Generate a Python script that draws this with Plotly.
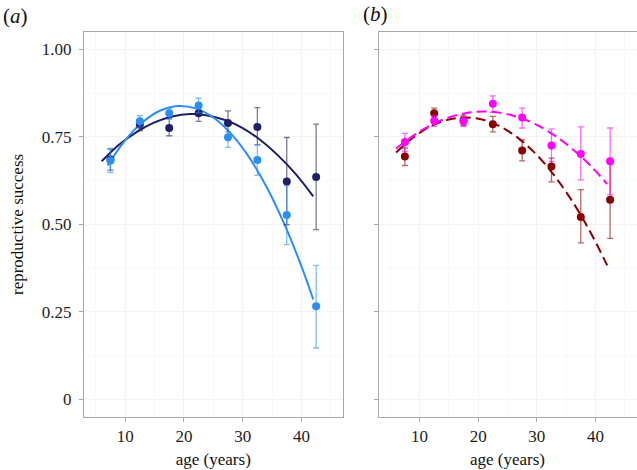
import plotly.graph_objects as go

ages = [7.5, 12.5, 17.5, 22.5, 27.5, 32.5, 37.5, 42.5]

# panel (a)
a_dark_y = [0.685, 0.784, 0.775, 0.817, 0.789, 0.778, 0.622, 0.635]
a_dark_hi = [0.715, 0.800, 0.803, 0.835, 0.824, 0.833, 0.748, 0.786]
a_dark_lo = [0.655, 0.768, 0.753, 0.794, 0.755, 0.727, 0.499, 0.485]
a_light_y = [0.682, 0.794, 0.817, 0.839, 0.749, 0.684, 0.527, 0.266]
a_light_hi = [0.717, 0.810, 0.830, 0.860, 0.765, 0.727, 0.610, 0.383]
a_light_lo = [0.648, 0.778, 0.800, 0.818, 0.720, 0.640, 0.442, 0.147]

a_dark_cx = [6, 9, 12, 15, 18, 21, 24, 27, 30, 33, 36, 39, 42]
a_dark_cy = [0.680, 0.728, 0.764, 0.791, 0.808, 0.815, 0.811, 0.798, 0.775, 0.741, 0.697, 0.644, 0.580]
a_light_cx = [7, 10, 13, 16, 19, 22, 25, 28, 31, 34, 37, 40, 42]
a_light_cy = [0.668, 0.740, 0.792, 0.825, 0.838, 0.831, 0.805, 0.759, 0.694, 0.609, 0.504, 0.380, 0.286]

# panel (b)
b_red_y = [0.694, 0.817, 0.797, 0.786, 0.711, 0.665, 0.521, 0.570]
b_red_hi = [0.718, 0.832, 0.812, 0.808, 0.741, 0.689, 0.599, 0.675]
b_red_lo = [0.668, 0.800, 0.782, 0.764, 0.681, 0.621, 0.447, 0.460]
b_mag_y = [0.735, 0.796, 0.794, 0.844, 0.805, 0.725, 0.701, 0.680]
b_mag_hi = [0.760, 0.810, 0.808, 0.867, 0.832, 0.772, 0.778, 0.775]
b_mag_lo = [0.708, 0.780, 0.780, 0.820, 0.775, 0.680, 0.627, 0.585]

b_cx = [6, 9, 12, 15, 18, 21, 24, 27, 30, 33, 36, 39, 42]
b_red_cy = [0.705, 0.749, 0.781, 0.799, 0.805, 0.798, 0.777, 0.744, 0.698, 0.639, 0.567, 0.482, 0.383]
b_mag_cy = [0.716, 0.754, 0.784, 0.805, 0.818, 0.822, 0.818, 0.805, 0.784, 0.754, 0.716, 0.670, 0.615]

y_ticks = [0, 0.25, 0.5, 0.75, 1.0]
y_tick_labels = ["0", "0.25", "0.50", "0.75", "1.00"]
x_ticks = [10, 20, 30, 40]

DARK = "#1f1f66"
LIGHT = "#2b8ff2"
RED = "#8b0000"
MAG = "#ff00ff"

FONT = "Liberation Serif, Times New Roman, serif"

def rgba(hexc, a):
    h = hexc.lstrip("#")
    r, g, b = int(h[0:2], 16), int(h[2:4], 16), int(h[4:6], 16)
    return f"rgba({r},{g},{b},{a})"

fig = go.Figure()

def add_points(y, hi, lo, color, xa, ya):
    fig.add_trace(go.Scatter(
        x=ages, y=y, mode="markers", xaxis=xa, yaxis=ya,
        marker=dict(color=color, size=8),
        error_y=dict(type="data", symmetric=False,
                     array=[h - v for h, v in zip(hi, y)],
                     arrayminus=[v - l for v, l in zip(y, lo)],
                     color=rgba(color, 0.6), thickness=1.3, width=3),
        showlegend=False, hoverinfo="skip"))

def add_curve(cx, cy, color, xa, ya, dash):
    fig.add_trace(go.Scatter(
        x=cx, y=cy, mode="lines", xaxis=xa, yaxis=ya,
        line=dict(color=color, width=2, shape="spline", dash=dash),
        showlegend=False, hoverinfo="skip"))

add_curve(a_dark_cx, a_dark_cy, DARK, "x", "y", "solid")
add_curve(a_light_cx, a_light_cy, LIGHT, "x", "y", "solid")
add_points(a_dark_y, a_dark_hi, a_dark_lo, DARK, "x", "y")
add_points(a_light_y, a_light_hi, a_light_lo, LIGHT, "x", "y")

add_curve(b_cx, b_red_cy, RED, "x2", "y2", "10px,5px")
add_curve(b_cx, b_mag_cy, MAG, "x2", "y2", "10px,5px")
add_points(b_red_y, b_red_hi, b_red_lo, RED, "x2", "y2")
add_points(b_mag_y, b_mag_hi, b_mag_lo, MAG, "x2", "y2")

W, H = 637, 470
y_dom = [(H - 417) / H, (H - 31.7) / H]

grid = "#f3f3f3"
border = "#a8a8a8"

def xaxis(dom, anchor):
    return dict(domain=dom, anchor=anchor, range=[3, 47], tickvals=x_ticks,
                showgrid=True, gridcolor=grid, gridwidth=1,
                minor=dict(showgrid=True, gridcolor="#f8f8f8", dtick=5, tick0=5, ticks=""),
                showline=True, linecolor=border, linewidth=1, mirror=True,
                ticks="outside", ticklen=4, tickcolor=border,
                tickfont=dict(family=FONT, size=17, color="#222"),
                zeroline=False,
                title=dict(text="age (years)", font=dict(family=FONT, size=17, color="#111"), standoff=7))

def yaxis(anchor, labels):
    return dict(domain=y_dom, anchor=anchor, range=[-0.05, 1.05], tickvals=y_ticks,
                ticktext=y_tick_labels, showticklabels=labels,
                showgrid=True, gridcolor=grid, gridwidth=1,
                minor=dict(showgrid=True, gridcolor="#f8f8f8", dtick=0.125, tick0=0.125, ticks=""),
                showline=True, linecolor=border, linewidth=1, mirror=True,
                ticks="outside", ticklen=4, tickcolor=border, ticklabelstandoff=4,
                tickfont=dict(family=FONT, size=17, color="#222"),
                zeroline=False)

fig.update_layout(
    width=W, height=H,
    margin=dict(l=0, r=0, t=0, b=0),
    font=dict(family=FONT),
    paper_bgcolor="white", plot_bgcolor="white",
    xaxis=xaxis([84 / W, 342.6 / W], "y"),
    yaxis=yaxis("x", True),
    xaxis2=xaxis([378.5 / W, 636.5 / W], "y2"),
    yaxis2=yaxis("x2", False),
    annotations=[
        dict(text="(<i>a</i>)", x=1 / W, y=(H - 16) / H, xref="paper", yref="paper",
             xanchor="left", yanchor="middle", showarrow=False,
             font=dict(family=FONT, size=21, color="#111")),
        dict(text="(<i>b</i>)", x=361 / W, y=(H - 14) / H, xref="paper", yref="paper",
             xanchor="left", yanchor="middle", showarrow=False,
             font=dict(family=FONT, size=21, color="#111")),
        dict(text="reproductive success", x=18 / W, y=(H - 225) / H, xref="paper", yref="paper",
             xanchor="center", yanchor="middle", textangle=-90, showarrow=False,
             font=dict(family=FONT, size=17, color="#111")),
    ],
)

fig.write_html("out.html", config={"displayModeBar": False},
               post_script="document.body.style.margin='0';")
